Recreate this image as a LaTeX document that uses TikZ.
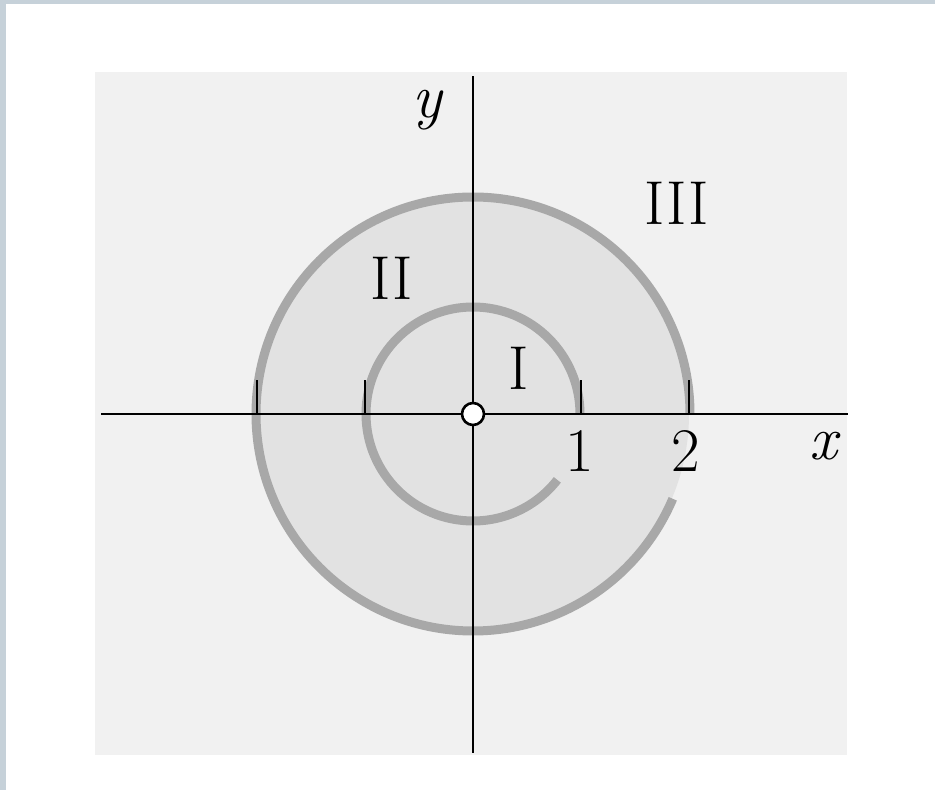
\documentclass[tikz,border=0pt]{standalone}
\usetikzlibrary{calc}
\definecolor{frameblue}{HTML}{C6D1D9}
\definecolor{sqgray}{HTML}{F1F1F1}
\definecolor{diskgray}{HTML}{E2E2E2}
\definecolor{arcgray}{HTML}{A8A8A8}
\begin{document}
\begin{tikzpicture}[x=1pt,y=1pt,
  axisline/.style={line width=2.6pt,black},
  tickline/.style={line width=2.6pt,black},
  spiralarc/.style={line width=9pt,arcgray},
  lbl/.style={inner sep=0pt,anchor=base,font=\fontsize{62}{70}\selectfont}]
% background and frame
\fill[white] (0,0) rectangle (935,790);
\useasboundingbox (0,0) rectangle (935,790);
\fill[frameblue] (0,0) rectangle (6,790);
\fill[frameblue] (0,786) rectangle (935,790);
% shaded square
\fill[sqgray] (95,35) rectangle (847,718);
\coordinate (O) at (473,376);
\fill[diskgray] (O) circle[radius=216];
% arcs
\draw[spiralarc] ($(O)+(107,0)$) arc[start angle=0,end angle=322,radius=107];
\draw[spiralarc] ($(O)+(217,0)$) arc[start angle=0,end angle=337,radius=217];
% axes
\coordinate (xl) at (101,376);
\coordinate (xr) at (848,376);
\coordinate (yb) at (473,37);
\coordinate (yt) at (473,714);
\draw[axisline] (xl) -- (xr);
\draw[axisline] (yb) -- (yt);
% ticks
\foreach \t/\nm in {-216/a,-108/b,108/c,216/d}{
  \coordinate (tk\nm) at ($(O)+(\t,0)$);
  \draw[tickline] (tk\nm) -- ++(0,34);
}
% origin
\draw[line width=2.6pt,fill=white] (O) circle[radius=11];
% labels
\node[lbl] (ly) at (427,672) {\itshape y};
\node[lbl] (lx) at (823,330) {\itshape x};
\node[lbl] (l1) at (580,318) {1};
\node[lbl] (l2) at (686,318) {2};
\node[lbl] (lI) at (519,400) {I};
\node[lbl] (lII) at (392,490) {II};
\node[lbl] (lIII) at (677,565) {III};
\end{tikzpicture}
\end{document}
